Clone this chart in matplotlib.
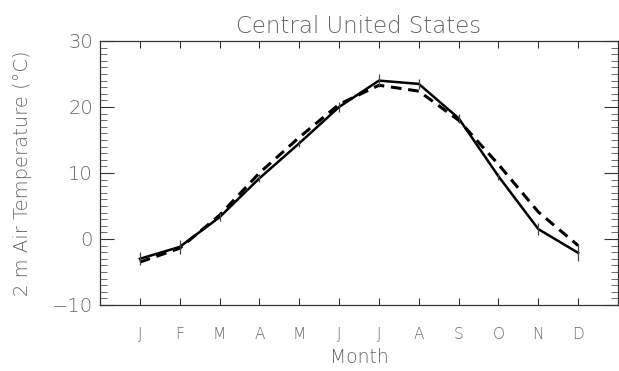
import numpy as np
import matplotlib
matplotlib.use("Agg")
import matplotlib.pyplot as plt
from matplotlib.ticker import MultipleLocator

# monthly 2 m air temperature, Central United States
months = ['J', 'F', 'M', 'A', 'M', 'J', 'J', 'A', 'S', 'O', 'N', 'D']
month_idx = np.arange(1, 13)
obs_temp = [-3.0, -1.2, 3.3, 9.2, 14.5, 20.0, 24.0, 23.5, 18.3, 9.5, 1.5, -2.1]
obs_err = [1.0, 1.0, 0.6, 0.6, 0.5, 0.7, 1.0, 0.7, 0.7, 0.5, 0.9, 1.3]
model_temp = [-3.5, -1.4, 3.6, 10.0, 15.4, 20.4, 23.3, 22.4, 18.0, 11.3, 4.1, -1.0]

text_col = '#666666'
font = dict(family='DejaVu Sans', weight='light', color=text_col)

fig = plt.figure(figsize=(6.19, 3.71), dpi=100)
ax = fig.add_axes([100 / 619, 66 / 371, 518 / 619, 264 / 371])

ax.plot(month_idx, model_temp, color='black', lw=2.2, ls=(0, (3.5, 2.2)))
ax.plot(month_idx, obs_temp, color='black', lw=1.8)
ax.errorbar(month_idx, obs_temp, yerr=obs_err, fmt='none', ecolor='#444444',
            elinewidth=0.9, capsize=0)

ax.set_xlim(0, 13)
ax.set_ylim(-10, 30)
ax.set_xticks(month_idx)
ax.set_xticklabels(months)
ax.yaxis.set_major_locator(MultipleLocator(10))
ax.yaxis.set_minor_locator(MultipleLocator(1))

ax.tick_params(axis='x', which='major', direction='in', length=5, width=0.8,
               top=True, pad=16, labelsize=11, colors='#333333', labelcolor=text_col)
ax.tick_params(axis='y', which='major', direction='in', length=10, width=0.8,
               right=True, pad=5, labelsize=14, colors='#333333', labelcolor=text_col)
ax.tick_params(axis='y', which='minor', direction='in', length=5, width=0.6,
               right=True, colors='#555555')
for lab in ax.get_xticklabels() + ax.get_yticklabels():
    lab.set_fontweight('light')

for sp in ax.spines.values():
    sp.set_linewidth(0.9)
    sp.set_color('#333333')

ax.set_title('Central United States', fontsize=16.5, pad=6, **font)
ax.set_xlabel('Month', fontsize=13.5, labelpad=4, **font)
ax.set_ylabel('2 m Air Temperature (\u00b0C)', fontsize=14, labelpad=14, **font)

fig.savefig('out.png', dpi=100)
